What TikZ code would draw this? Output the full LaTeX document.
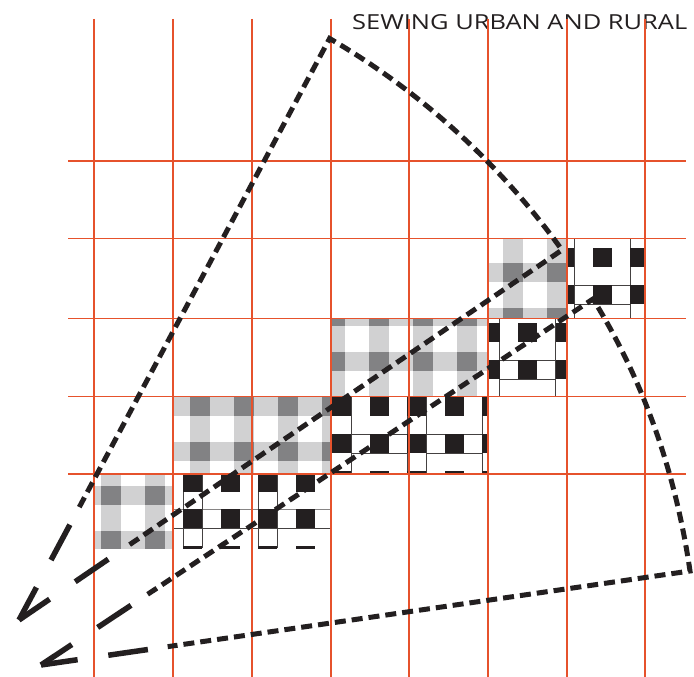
\documentclass[tikz,border=0pt]{standalone}
\usepackage{graphicx}
\usepackage{fontspec}
\newfontfamily\titlefont{Open Sans}
\usetikzlibrary{calc}
\definecolor{gridred}{RGB}{230,82,44}
\definecolor{ink}{RGB}{35,31,32}
\definecolor{glight}{RGB}{209,209,210}
\definecolor{gdark}{RGB}{130,130,132}
\tikzset{
  gridline/.style={draw=gridred, line width=1.5pt},
  sdash/.style={draw=ink, line width=5pt, dash pattern=on 11pt off 6pt, line join=miter},
  ldash/.style={draw=ink, line width=5.5pt},
  barb/.style={draw=ink, line width=5.5pt},
  thinbox/.style={draw=ink!85, line width=0.9pt},
}
% x0 y0 x1 y1 colstart rowstart
\newcommand{\ginghamblock}[6]{%
 \begin{scope}
 \clip (#1,#2) rectangle (#3,#4);
 \fill[white] (#1,#2) rectangle (#3,#4);
 \foreach \k in {0,...,4}{
   \fill[glight] ({#5+44*\k},#2) rectangle ({#5+44*\k+20},#4);
   \fill[glight] (#1,{#6+45*\k}) rectangle (#3,{#6+45*\k+19});
 }
 \foreach \k in {0,...,4}{\foreach \m in {0,...,3}{
   \fill[gdark] ({#5+44*\k},{#6+45*\m}) rectangle ({#5+44*\k+20},{#6+45*\m+19});
 }}
 \end{scope}}
\newcommand{\checkerblock}[6]{%
 \begin{scope}
 \clip (#1,#2) rectangle (#3,#4);
 \fill[white] (#1,#2) rectangle (#3,#4);
 \foreach \k in {0,1,2}{
   \draw[thinbox] ({#5+19+75*\k},#2) -- ({#5+19+75*\k},#4);
   \draw[thinbox] ({#5+75+75*\k},#2) -- ({#5+75+75*\k},#4);
   \draw[thinbox] ({#5+19+75*\k},{#6+37}) -- ({#5+75+75*\k},{#6+37});
   \draw[thinbox] ({#5+19+75*\k},{#6+56}) -- ({#5+75+75*\k},{#6+56});
 }
 \foreach \k in {0,...,5}{\foreach \m in {0,...,3}{
   \fill[ink] ({#5+37.5*\k},{#6+37*\m}) rectangle ({#5+37.5*\k+19},{#6+37*\m+19});
 }}
 \end{scope}}
\begin{document}
\begin{tikzpicture}[x=1pt,y=-1pt]
\useasboundingbox (0,0) rectangle (694,677);
\fill[white] (0,0) rectangle (694,677);

\node[anchor=south west, inner sep=0pt, text=ink] (title) at (352,30)
  {\resizebox{335pt}{15pt}{\titlefont SEWING URBAN AND RURAL}};

% gingham blocks
\ginghamblock{94}{474}{173}{548}{101}{486}
\ginghamblock{173}{396.5}{331}{474}{190}{397}
\ginghamblock{331}{318.5}{488}{396.5}{325}{307}
\ginghamblock{488}{238.5}{567}{318.5}{503}{263}

% checker blocks
\checkerblock{331}{396.5}{488}{474}{332}{397}
\checkerblock{488}{318.5}{567}{396.5}{480.5}{323}
\checkerblock{567}{238.5}{645}{318.5}{555}{248}
% bottom checker block
\begin{scope}
\clip (173,474) rectangle (331,548);
\fill[white] (173,474) rectangle (331,548);
\draw[thinbox, draw=ink!55] (173,509) -- (331,509);
\draw[thinbox] (173,528) -- (331,528);
\foreach \x in {183,202,258,277} \draw[thinbox] (\x,474) -- (\x,548);
\foreach \k in {0,...,4}{\foreach \m in {0,1,2}{
  \fill[ink] ({183+37.5*\k},{472.5+36.5*\m}) rectangle ({183+37.5*\k+19},{472.5+36.5*\m+19});
}}
\end{scope}

% grid
\foreach \x in {94,173,252,331,409,488,567,645}
  \draw[gridline] (\x,19) -- (\x,677);
\foreach \y in {161,238.5,318.5,396.5,474}
  \draw[gridline] (68,\y) -- (686,\y);

% dashed fan
\coordinate (apex) at (329.6,38.5);
\coordinate (tipL) at (19,620);
\coordinate (tipB) at (41,665);
\coordinate (c1) at (562,250);
\coordinate (c2) at (593,299);
\coordinate (corner) at (690,571);

\draw[sdash] ($(tipL)!128pt!(apex)$) -- (apex)
   .. controls (421.2,91.9) and (500.5,164.4) .. (c1)
   -- ($(tipL)!128pt!(c1)$);
\draw[sdash] ($(tipB)!128pt!(c2)$) -- (c2)
   .. controls (644.8,382.6) and (676,475) .. (corner)
   -- ($(tipB)!128pt!(corner)$);

\foreach \p/\t in {apex/tipL, c1/tipL, c2/tipB, corner/tipB}{
  \draw[ldash] ($(\t)!68pt!(\p)$) -- ($(\t)!108pt!(\p)$);
  \draw[barb] (\t) -- ($(\t)!37pt!(\p)$);
}
\end{tikzpicture}
\end{document}
